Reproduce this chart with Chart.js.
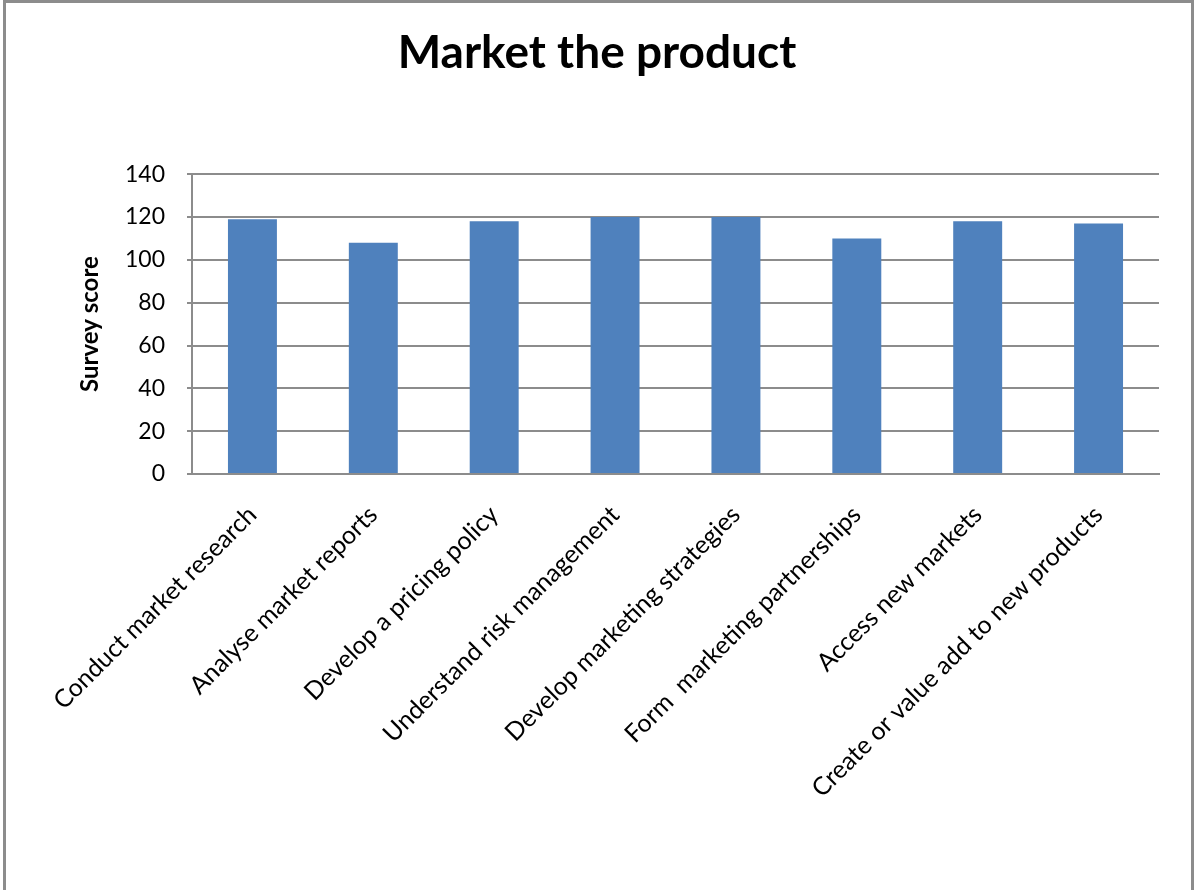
<!DOCTYPE html>
<html>
<head>
<meta charset="utf-8">
<script src="https://cdn.jsdelivr.net/npm/chart.js@4.4.1/dist/chart.umd.min.js"></script>
<style>
  html, body { margin: 0; padding: 0; background: #ffffff; overflow: hidden; }
  #wrap { position: relative; width: 1194px; height: 890px; }
  #frame {
    position: absolute; left: 3px; top: 0; width: 1191px; height: 1000px;
    box-sizing: border-box; border: 3px solid #8c8c8c; pointer-events: none;
  }
  canvas { position: absolute; left: 0; top: 0; }
</style>
</head>
<body>
<div id="wrap">
  <canvas id="chart" width="1194" height="890"></canvas>
  <div id="frame"></div>
</div>
<script>
// Survey categories and their scores
const categories = [
  "Conduct market research",
  "Analyse market reports",
  "Develop a pricing policy",
  "Understand risk management",
  "Develop marketing strategies",
  "Form  marketing partnerships",
  "Access new markets",
  "Create or value add to new products"
];
const scores = [119, 108, 118, 120, 120, 110, 118, 117];
const yTicks = [0, 20, 40, 60, 80, 100, 120, 140];

const FONT = "Lato, 'Open Sans', sans-serif";
const GRID = "#8c8c8c";

new Chart(document.getElementById("chart"), {
  type: "bar",
  data: {
    labels: categories,
    datasets: [{
      label: "Survey score",
      data: scores,
      backgroundColor: "#4F81BD",
      borderWidth: 0,
      categoryPercentage: 1.0,
      barPercentage: 0.405
    }]
  },
  options: {
    responsive: false,
    animation: false,
    layout: { padding: { left: 35, right: 35, top: 0, bottom: 0 } },
    plugins: {
      legend: { display: false },
      tooltip: { enabled: false },
      title: {
        display: true,
        text: "Market the product",
        color: "#000000",
        font: { family: FONT, size: 46, weight: "bold" },
        padding: { top: 26, bottom: 93 }
      }
    },
    scales: {
      x: {
        grid: { display: false, drawTicks: false },
        border: { display: true, color: GRID, width: 2 },
        ticks: {
          color: "#000000",
          font: { family: FONT, size: 25 },
          minRotation: 45,
          maxRotation: 45,
          autoSkip: false,
          padding: 26
        },
        afterFit: (scale) => { scale.height = 416; }
      },
      y: {
        min: 0,
        max: 140,
        afterBuildTicks: (scale) => { scale.ticks = yTicks.map(v => ({ value: v })); },
        grid: { color: GRID, lineWidth: 2, drawTicks: true, tickLength: 5, tickColor: GRID },
        border: { display: true, color: GRID, width: 2 },
        ticks: {
          color: "#000000",
          font: { family: FONT, size: 23 },
          padding: 22
        },
        title: {
          display: true,
          text: "Survey score",
          color: "#000000",
          font: { family: FONT, size: 24, weight: "bold" },
          padding: { top: 41, bottom: 0 }
        },
        afterFit: (scale) => { scale.width = 157; }
      }
    }
  }
});
</script>
</body>
</html>
